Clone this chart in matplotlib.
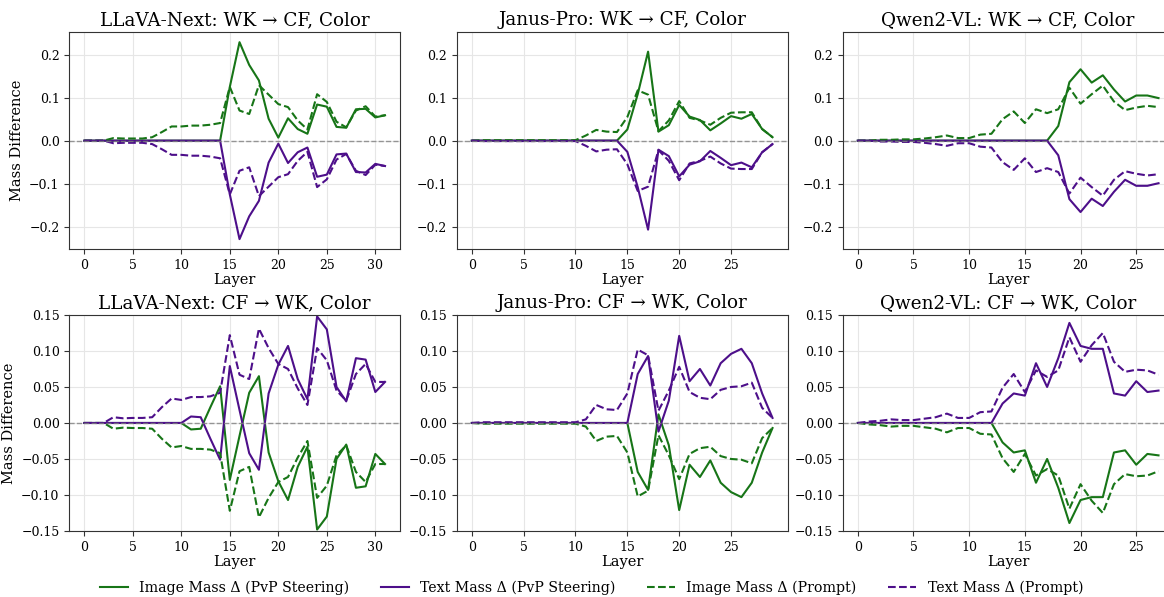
import numpy as np
import matplotlib
matplotlib.use('Agg')
import matplotlib.pyplot as plt
from matplotlib.lines import Line2D

plt.rcParams['font.family'] = 'DejaVu Serif'

GREEN = '#177517'
PURPLE = '#4d0f8a'

titles = [
    'LLaVA-Next: WK \u2192 CF, Color', 'Janus-Pro: WK \u2192 CF, Color', 'Qwen2-VL: WK \u2192 CF, Color',
    'LLaVA-Next: CF \u2192 WK, Color', 'Janus-Pro: CF \u2192 WK, Color', 'Qwen2-VL: CF \u2192 WK, Color',
]

# ---- top row: WK -> CF ----
llava_wk_img_steer = [0, 0, 0, 0, 0, 0, 0, 0, 0, 0, 0, 0, 0, 0, 0, 0.125, 0.229, 0.176, 0.14, 0.051,
                      0.007, 0.052, 0.027, 0.016, 0.084, 0.079, 0.032, 0.03, 0.073, 0.074, 0.054, 0.059]
llava_wk_txt_steer = [0, 0, 0, 0, 0, 0, 0, 0, 0, 0, 0, 0, 0, 0, 0, -0.125, -0.229, -0.176, -0.14, -0.051,
                      -0.007, -0.052, -0.027, -0.016, -0.084, -0.079, -0.032, -0.03, -0.073, -0.074, -0.054, -0.059]
llava_wk_img_prompt = [0, 0, 0, 0.006, 0.005, 0.005, 0.005, 0.008, 0.02, 0.033, 0.033, 0.035, 0.035, 0.037, 0.041,
                       0.125, 0.07, 0.062, 0.129, 0.107, 0.085, 0.078, 0.047, 0.026, 0.108, 0.09, 0.044, 0.031,
                       0.07, 0.08, 0.056, 0.059]
llava_wk_txt_prompt = [0, 0, 0, -0.006, -0.005, -0.005, -0.005, -0.008, -0.02, -0.033, -0.033, -0.035, -0.035,
                       -0.037, -0.041, -0.125, -0.07, -0.062, -0.129, -0.107, -0.085, -0.078, -0.047, -0.026,
                       -0.108, -0.09, -0.044, -0.031, -0.07, -0.08, -0.056, -0.059]

janus_wk_img_steer = [0, 0, 0, 0, 0, 0, 0, 0, 0, 0, 0, 0, 0, 0, 0, 0.026, 0.108, 0.207, 0.021, 0.036,
                      0.083, 0.056, 0.048, 0.024, 0.04, 0.057, 0.051, 0.062, 0.027, 0.008]
janus_wk_txt_steer = [0, 0, 0, 0, 0, 0, 0, 0, 0, 0, 0, 0, 0, 0, 0, -0.026, -0.108, -0.207, -0.021, -0.036,
                      -0.083, -0.056, -0.048, -0.024, -0.04, -0.057, -0.051, -0.062, -0.027, -0.008]
janus_wk_img_prompt = [0, 0.001, 0.001, 0.001, 0.001, 0.001, 0.001, 0.001, 0.001, 0.001, 0.001, 0.012, 0.025,
                       0.021, 0.02, 0.055, 0.117, 0.107, 0.022, 0.047, 0.092, 0.053, 0.047, 0.037, 0.053,
                       0.065, 0.066, 0.066, 0.027, 0.008]
janus_wk_txt_prompt = [0, -0.001, -0.001, -0.001, -0.001, -0.001, -0.001, -0.001, -0.001, -0.001, -0.001, -0.012,
                       -0.025, -0.021, -0.02, -0.055, -0.117, -0.107, -0.022, -0.047, -0.092, -0.053, -0.047,
                       -0.037, -0.053, -0.065, -0.066, -0.066, -0.027, -0.008]

qwen_wk_img_steer = [0, 0, 0, 0, 0, 0, 0, 0, 0, 0, 0, 0, 0, 0, 0, 0, 0, 0, 0.034, 0.136,
                     0.166, 0.135, 0.152, 0.119, 0.091, 0.105, 0.105, 0.099]
qwen_wk_txt_steer = [0, 0, 0, 0, 0, 0, 0, 0, 0, 0, 0, 0, 0, 0, 0, 0, 0, 0, -0.034, -0.136,
                     -0.166, -0.135, -0.152, -0.119, -0.091, -0.105, -0.105, -0.099]
qwen_wk_img_prompt = [0, 0, 0.002, 0.002, 0.003, 0.003, 0.005, 0.008, 0.012, 0.006, 0.006, 0.014, 0.016,
                      0.05, 0.068, 0.041, 0.073, 0.064, 0.073, 0.123, 0.086, 0.108, 0.128, 0.091, 0.071,
                      0.077, 0.081, 0.078]
qwen_wk_txt_prompt = [0, 0, -0.002, -0.002, -0.003, -0.003, -0.005, -0.008, -0.012, -0.006, -0.006, -0.014,
                      -0.016, -0.05, -0.068, -0.041, -0.073, -0.064, -0.073, -0.123, -0.086, -0.108, -0.128,
                      -0.091, -0.071, -0.077, -0.081, -0.078]

# ---- bottom row: CF -> WK ----
llava_cf_img_steer = [0, 0, 0, 0, 0, 0, 0, 0, 0, 0, 0, -0.009, -0.008, 0.022, 0.051, -0.079, -0.018, 0.042,
                      0.065, -0.041, -0.081, -0.107, -0.061, -0.033, -0.148, -0.13, -0.05, -0.03, -0.09,
                      -0.088, -0.043, -0.057]
llava_cf_txt_steer = [0, 0, 0, 0, 0, 0, 0, 0, 0, 0, 0, 0.009, 0.008, -0.022, -0.051, 0.079, 0.018, -0.042,
                      -0.065, 0.041, 0.081, 0.107, 0.061, 0.033, 0.148, 0.13, 0.05, 0.03, 0.09,
                      0.088, 0.043, 0.057]
llava_cf_img_prompt = [0, 0, 0, -0.008, -0.0065, -0.007, -0.007, -0.008, -0.022, -0.034, -0.032, -0.036,
                       -0.036, -0.037, -0.042, -0.122, -0.067, -0.061, -0.131, -0.104, -0.082, -0.075,
                       -0.048, -0.025, -0.104, -0.087, -0.045, -0.031, -0.068, -0.082, -0.057, -0.057]
llava_cf_txt_prompt = [0, 0, 0, 0.008, 0.0065, 0.007, 0.007, 0.008, 0.022, 0.034, 0.032, 0.036,
                       0.036, 0.037, 0.042, 0.122, 0.067, 0.061, 0.131, 0.104, 0.082, 0.075,
                       0.048, 0.025, 0.104, 0.087, 0.045, 0.031, 0.068, 0.082, 0.057, 0.057]

janus_cf_img_steer = [0, 0, 0, 0, 0, 0, 0, 0, 0, 0, 0, 0, 0, 0, 0, 0, -0.068, -0.093, 0.012, -0.031,
                      -0.121, -0.058, -0.075, -0.052, -0.083, -0.096, -0.103, -0.083, -0.041, -0.007]
janus_cf_txt_steer = [0, 0, 0, 0, 0, 0, 0, 0, 0, 0, 0, 0, 0, 0, 0, 0, 0.068, 0.093, -0.012, 0.031,
                      0.121, 0.058, 0.075, 0.052, 0.083, 0.096, 0.103, 0.083, 0.041, 0.007]
janus_cf_img_prompt = [0, -0.001, -0.001, -0.001, -0.001, -0.001, -0.001, -0.001, -0.001, -0.001, -0.001,
                       -0.005, -0.025, -0.019, -0.018, -0.041, -0.102, -0.094, -0.017, -0.045, -0.078,
                       -0.043, -0.035, -0.033, -0.046, -0.05, -0.051, -0.056, -0.021, -0.007]
janus_cf_txt_prompt = [0, 0.001, 0.001, 0.001, 0.001, 0.001, 0.001, 0.001, 0.001, 0.001, 0.001,
                       0.005, 0.025, 0.019, 0.018, 0.041, 0.102, 0.094, 0.017, 0.045, 0.078,
                       0.043, 0.035, 0.033, 0.046, 0.05, 0.051, 0.056, 0.021, 0.007]

qwen_cf_img_steer = [0, 0, 0, 0, 0, 0, 0, 0, 0, 0, 0, 0, 0, -0.027, -0.041, -0.038, -0.083, -0.05, -0.09,
                     -0.139, -0.107, -0.103, -0.103, -0.041, -0.038, -0.058, -0.043, -0.045]
qwen_cf_txt_steer = [0, 0, 0, 0, 0, 0, 0, 0, 0, 0, 0, 0, 0, 0.027, 0.041, 0.038, 0.083, 0.05, 0.09,
                     0.139, 0.107, 0.103, 0.103, 0.041, 0.038, 0.058, 0.043, 0.045]
qwen_cf_img_prompt = [0, -0.002, -0.003, -0.005, -0.004, -0.004, -0.006, -0.008, -0.013, -0.007, -0.007,
                      -0.015, -0.016, -0.049, -0.068, -0.043, -0.073, -0.064, -0.073, -0.119, -0.085,
                      -0.108, -0.125, -0.085, -0.071, -0.074, -0.073, -0.067]
qwen_cf_txt_prompt = [0, 0.002, 0.003, 0.005, 0.004, 0.004, 0.006, 0.008, 0.013, 0.007, 0.007,
                      0.015, 0.016, 0.049, 0.068, 0.043, 0.073, 0.064, 0.073, 0.119, 0.085,
                      0.108, 0.125, 0.085, 0.071, 0.074, 0.073, 0.067]

panels = [
    (llava_wk_img_steer, llava_wk_txt_steer, llava_wk_img_prompt, llava_wk_txt_prompt),
    (janus_wk_img_steer, janus_wk_txt_steer, janus_wk_img_prompt, janus_wk_txt_prompt),
    (qwen_wk_img_steer, qwen_wk_txt_steer, qwen_wk_img_prompt, qwen_wk_txt_prompt),
    (llava_cf_img_steer, llava_cf_txt_steer, llava_cf_img_prompt, llava_cf_txt_prompt),
    (janus_cf_img_steer, janus_cf_txt_steer, janus_cf_img_prompt, janus_cf_txt_prompt),
    (qwen_cf_img_steer, qwen_cf_txt_steer, qwen_cf_img_prompt, qwen_cf_txt_prompt),
]

fig = plt.figure(figsize=(11.64, 5.97), dpi=100)

lefts = [0.0595, 0.3924, 0.724]
width = 0.2842
rows = [(0.5829, 0.363), (0.1106, 0.3618)]

for k, (img_s, txt_s, img_p, txt_p) in enumerate(panels):
    r, c = divmod(k, 3)
    ax = fig.add_axes([lefts[c], rows[r][0], width, rows[r][1]])
    x = np.arange(len(img_s))
    ax.plot(x, img_s, color=GREEN, lw=1.5)
    ax.plot(x, txt_s, color=PURPLE, lw=1.5)
    ax.plot(x, img_p, color=GREEN, lw=1.5, ls='--')
    ax.plot(x, txt_p, color=PURPLE, lw=1.5, ls='--')
    ax.axhline(0, color='gray', ls='--', lw=1, alpha=0.8)
    ax.grid(True, color='#e6e6e6', lw=0.8)
    ax.set_axisbelow(True)
    ax.set_xlim(-0.05 * (len(x) - 1), (len(x) - 1) * 1.05)
    if r == 0:
        ax.set_ylim(-0.252, 0.252)
        ax.set_yticks([-0.2, -0.1, 0.0, 0.1, 0.2])
    else:
        ax.set_ylim(-0.15, 0.15)
        ax.set_yticks([-0.15, -0.10, -0.05, 0.0, 0.05, 0.10, 0.15])
        ax.set_yticklabels(['\u22120.15', '\u22120.10', '\u22120.05', '0.00', '0.05', '0.10', '0.15'])
    ax.set_xticks(range(0, len(x), 5))
    ax.tick_params(labelsize=9, length=3.5, color='#333333')
    for s in ax.spines.values():
        s.set_color('#333333')
    ax.set_title(titles[k], fontsize=13.2, pad=5)
    ax.set_xlabel('Layer', fontsize=10.5, labelpad=1)
    if c == 0:
        ax.set_ylabel('Mass Difference', fontsize=10.5)

handles = [
    Line2D([], [], color=GREEN, lw=1.5),
    Line2D([], [], color=PURPLE, lw=1.5),
    Line2D([], [], color=GREEN, lw=1.5, ls='--'),
    Line2D([], [], color=PURPLE, lw=1.5, ls='--'),
]
labels = ['Image Mass \u0394 (PvP Steering)', 'Text Mass \u0394 (PvP Steering)',
          'Image Mass \u0394 (Prompt)', 'Text Mass \u0394 (Prompt)']
fig.legend(handles, labels, loc='center', bbox_to_anchor=(0.508, 0.015), ncol=4,
           frameon=False, fontsize=10.2, columnspacing=2.2, handlelength=2)

fig.savefig('out.png', dpi=100)
